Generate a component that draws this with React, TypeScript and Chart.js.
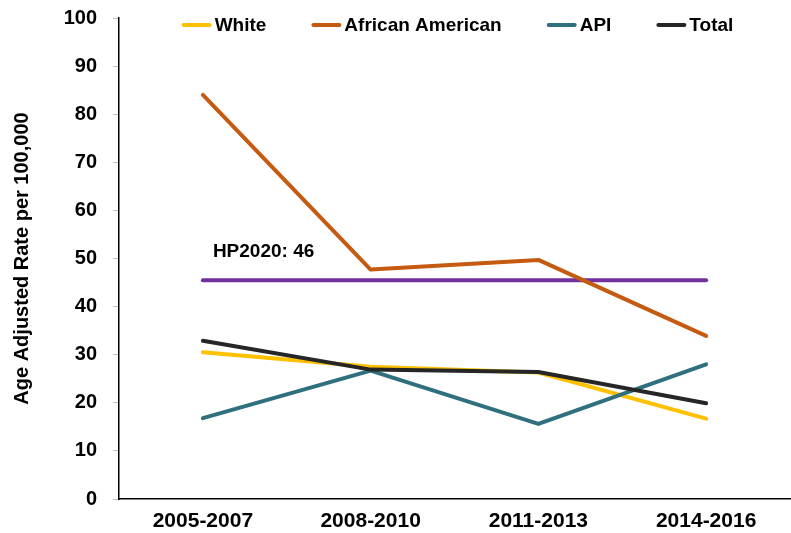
import React, { useEffect, useRef } from "react";
import { Chart, registerables } from "chart.js";

Chart.register(...registerables);

const categories = ["2005-2007", "2008-2010", "2011-2013", "2014-2016"];
const white = [30.5, 27.5, 26.3, 16.7];
const africanAmerican = [84.0, 47.7, 49.7, 33.9];
const api = [16.8, 26.7, 15.6, 28.0];
const total = [32.9, 26.9, 26.4, 19.9];
const hp2020 = [45.5, 45.5, 45.5, 45.5];
const hpLabel = "HP2020: 46";
const yTicks = [0, 10, 20, 30, 40, 50, 60, 70, 80, 90, 100];

const FONT = "'Liberation Sans', Arial, sans-serif";

const legendPlugin = {
  id: "customLegend",
  afterDraw(chart: any) {
    const ctx = chart.ctx;
    const items = chart.data.datasets.filter((d: any) => !d.hideLegend);
    ctx.save();
    ctx.font = `bold 19px ${FONT}`;
    const lineW = 30;
    const gapText = 3;
    const gapItem = 45;
    const widths = items.map((d: any) => lineW + gapText + ctx.measureText(d.label).width);
    const totalW = widths.reduce((a: number, b: number) => a + b, 0) + gapItem * (items.length - 1);
    const ca = chart.chartArea;
    let x = (ca.left + ca.right) / 2 + 3 - totalW / 2;
    const y = 25;
    items.forEach((d: any, i: number) => {
      ctx.strokeStyle = d.borderColor;
      ctx.lineWidth = 4;
      ctx.lineCap = "round";
      ctx.beginPath();
      ctx.moveTo(x + 2, y);
      ctx.lineTo(x + lineW - 2, y);
      ctx.stroke();
      ctx.fillStyle = "#000";
      ctx.textBaseline = "middle";
      ctx.textAlign = "left";
      ctx.fillText(d.label, x + lineW + gapText, y + 1);
      x += widths[i] + gapItem;
    });
    ctx.restore();
  },
};

const hpLabelPlugin = {
  id: "hpLabel",
  afterDatasetsDraw(chart: any) {
    const ctx = chart.ctx;
    const xs = chart.scales.x;
    const ys = chart.scales.y;
    const px = xs.getPixelForValue(0) + 10;
    const py = ys.getPixelForValue(hp2020[0]) - 28;
    ctx.save();
    ctx.font = `bold 19px ${FONT}`;
    ctx.fillStyle = "#000";
    ctx.textBaseline = "middle";
    ctx.textAlign = "left";
    ctx.fillText(hpLabel, px, py);
    ctx.restore();
  },
};

export default function App() {
  const ref = useRef<HTMLCanvasElement>(null);
  useEffect(() => {
    if (!ref.current) return;
    const mk = (label: string, data: number[], color: string, order: number, hideLegend = false) => ({
      label,
      data,
      borderColor: color,
      backgroundColor: color,
      borderWidth: 4,
      pointRadius: 0,
      fill: false,
      tension: 0,
      order,
      hideLegend,
      borderCapStyle: "round",
      borderJoinStyle: "round",
    });
    const chart = new Chart(ref.current, {
      type: "line",
      data: {
        labels: categories,
        datasets: [
          mk("White", white, "#FFC000", 4),
          mk("African American", africanAmerican, "#C55A11", 3),
          mk("API", api, "#2F6F7E", 2),
          mk("Total", total, "#262626", 1),
          mk("HP2020", hp2020, "#7030A0", 5, true),
        ] as any,
      },
      options: {
        animation: false,
        responsive: true,
        maintainAspectRatio: false,
        layout: { padding: { top: 18, right: 1, left: 0, bottom: 0 } },
        plugins: {
          legend: { display: false },
          tooltip: { enabled: false },
        },
        scales: {
          x: {
            offset: true,
            grid: { display: false, drawTicks: false },
            border: { color: "#000", width: 1.5 },
            ticks: {
              color: "#000",
              font: { family: FONT, size: 21, weight: "bold" },
              padding: 10,
              maxRotation: 0,
            },
            afterFit(scale: any) {
              scale.height = 34;
              scale.paddingLeft = 0;
              scale.paddingRight = 0;
            },
          },
          y: {
            min: 0,
            max: 100,
            afterBuildTicks(scale: any) {
              scale.ticks = yTicks.map((v) => ({ value: v }));
            },
            grid: {
              drawOnChartArea: false,
              drawTicks: true,
              tickLength: 6,
              color: "#BFBFBF",
            },
            border: { color: "#000", width: 1.5 },
            ticks: {
              color: "#000",
              font: { family: FONT, size: 20, weight: "bold" },
              padding: 16,
            },
            title: {
              display: true,
              text: "Age Adjusted Rate per 100,000",
              color: "#000",
              font: { family: FONT, size: 20, weight: "bold" },
              padding: { top: 10, bottom: 0 },
            },
            afterFit(scale: any) {
              scale.width = 119;
              scale.paddingTop = 0;
              scale.paddingBottom = 0;
            },
          },
        },
      } as any,
      plugins: [legendPlugin, hpLabelPlugin],
    });
    return () => chart.destroy();
  }, []);
  return (
    <div style={{ position: "fixed", left: 0, top: 0, width: 791, height: 533, background: "#fff" }}>
      <canvas ref={ref} />
    </div>
  );
}
